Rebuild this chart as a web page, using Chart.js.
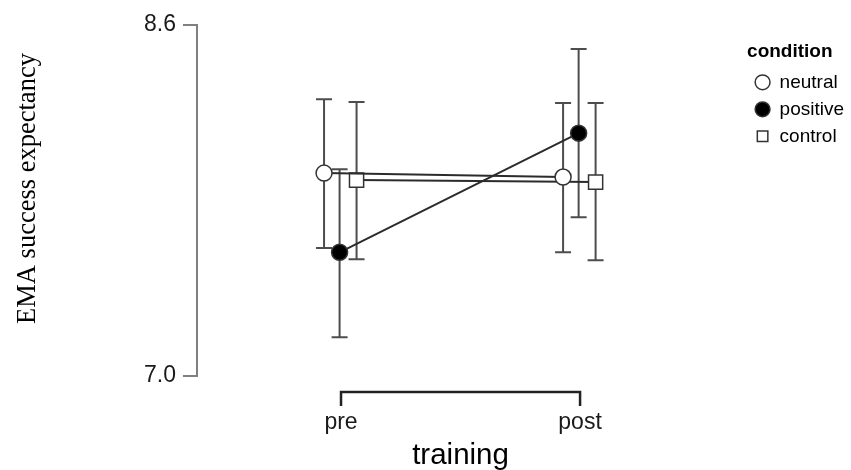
<!DOCTYPE html>
<html>
<head>
<meta charset="utf-8">
<script src="https://cdn.jsdelivr.net/npm/chart.js@4.4.0/dist/chart.umd.min.js"></script>
<style>
  html, body { margin: 0; padding: 0; background: #fff; }
  .chart-box { width: 851px; height: 470px; }
</style>
</head>
<body>
<div class="chart-box"><canvas id="chart"></canvas></div>
<script>
// data (means with error bar ends)
const timepoints = ['pre', 'post'];
const conditions = ['neutral', 'positive', 'control'];

const neutralMean = [7.925, 7.907];
const neutralLow = [7.583, 7.564];
const neutralHigh = [8.262, 8.244];

const positiveMean = [7.564, 8.107];
const positiveLow = [7.177, 7.724];
const positiveHigh = [7.943, 8.491];

const controlMean = [7.893, 7.884];
const controlLow = [7.532, 7.528];
const controlHigh = [8.249, 8.244];

const yTicks = [7.0, 8.6];

const xTitle = 'training';
const yTitle = 'EMA success expectancy';

const FONT = "'Liberation Sans', Arial, sans-serif";
const SERIF = "'Liberation Serif', 'Times New Roman', serif";
const dodge = [-0.071, -0.006, 0.065];

const series = [
  { mean: neutralMean, low: neutralLow, high: neutralHigh, fill: '#ffffff', style: 'circle', r: 8 },
  { mean: positiveMean, low: positiveLow, high: positiveHigh, fill: '#000000', style: 'circle', r: 8 },
  { mean: controlMean, low: controlLow, high: controlHigh, fill: '#ffffff', style: 'rect', r: 10 },
];

const datasets = series.map((s, i) => ({
  label: conditions[i],
  data: s.mean.map((v, j) => ({ x: j + 1 + dodge[i], y: v })),
  showLine: true,
  borderColor: '#2b2b2b',
  borderWidth: 2,
  pointStyle: s.style,
  pointRadius: s.r,
  pointBackgroundColor: s.fill,
  pointBorderColor: '#333333',
  pointBorderWidth: 1.5,
  backgroundColor: s.fill,
}));

// error bars, drawn under the points
const errorBars = {
  id: 'errorBars',
  beforeDatasetsDraw(chart) {
    const ctx = chart.ctx;
    const y = chart.scales.y;
    ctx.save();
    ctx.strokeStyle = '#4d4d4d';
    ctx.lineWidth = 2;
    series.forEach((s, i) => {
      const meta = chart.getDatasetMeta(i);
      meta.data.forEach((pt, j) => {
        const top = y.getPixelForValue(s.high[j]);
        const bot = y.getPixelForValue(s.low[j]);
        ctx.beginPath();
        ctx.moveTo(pt.x, top); ctx.lineTo(pt.x, bot);
        ctx.moveTo(pt.x - 8, top); ctx.lineTo(pt.x + 8, top);
        ctx.moveTo(pt.x - 8, bot); ctx.lineTo(pt.x + 8, bot);
        ctx.stroke();
      });
    });
    ctx.restore();
  }
};

// detached x axis bracket between the two categories, plus axis titles
const axisDecor = {
  id: 'axisDecor',
  afterDraw(chart) {
    const ctx = chart.ctx;
    const xs = chart.scales.x;
    const area = chart.chartArea;
    const x1 = xs.getPixelForValue(1);
    const x2 = xs.getPixelForValue(timepoints.length);
    const yy = xs.top + 16;
    ctx.save();
    ctx.strokeStyle = '#222';
    ctx.lineWidth = 2.5;
    ctx.beginPath();
    ctx.moveTo(x1, yy + 14);
    ctx.lineTo(x1, yy);
    ctx.lineTo(x2, yy);
    ctx.lineTo(x2, yy + 14);
    ctx.stroke();

    ctx.fillStyle = '#000';
    ctx.textAlign = 'center';
    ctx.textBaseline = 'alphabetic';
    ctx.font = '29.5px ' + FONT;
    ctx.fillText(xTitle, (x1 + x2) / 2, xs.bottom - 6);

    ctx.translate(28, (area.top + area.bottom) / 2 - 12);
    ctx.rotate(-Math.PI / 2);
    ctx.textBaseline = 'middle';
    ctx.font = '26.5px ' + SERIF;
    ctx.fillText(yTitle, 0, 0);
    ctx.restore();
  }
};

new Chart(document.getElementById('chart'), {
  type: 'scatter',
  data: { datasets },
  options: {
    responsive: true,
    maintainAspectRatio: false,
    animation: false,
    events: [],
    layout: { padding: { top: 25, right: -3, bottom: 0, left: 0 } },
    scales: {
      x: {
        type: 'linear',
        min: 0.3975,
        max: 2.6987,
        afterFit(scale) { scale.height = 94; },
        afterBuildTicks(scale) { scale.ticks = timepoints.map((t, i) => ({ value: i + 1 })); },
        grid: { display: false, drawTicks: false },
        border: { display: false },
        ticks: {
          padding: 33,
          color: '#1a1a1a',
          font: { family: FONT, size: 23 },
          callback: v => timepoints[v - 1],
        },
      },
      y: {
        min: yTicks[0],
        max: yTicks[yTicks.length - 1],
        afterFit(scale) { scale.width = 197; },
        afterBuildTicks(scale) { scale.ticks = yTicks.map(v => ({ value: v })); },
        grid: { drawOnChartArea: false, tickLength: 14, color: '#808080', lineWidth: 2 },
        border: { color: '#808080', width: 2 },
        ticks: {
          padding: 7,
          color: '#1a1a1a',
          font: { family: FONT, size: 23 },
          callback: v => v.toFixed(1),
        },
      },
    },
    plugins: {
      tooltip: { enabled: false },
      legend: {
        position: 'right',
        align: 'start',
        title: {
          display: true,
          text: 'condition',
          position: 'start',
          color: '#000',
          font: { family: FONT, size: 19, weight: 'bold' },
          padding: { top: 17, bottom: 0 },
        },
        labels: {
          usePointStyle: true,
          boxWidth: 15,
          boxHeight: 10.5,
          padding: 8,
          color: '#000',
          font: { family: FONT, size: 19 },
        },
      },
    },
  },
  plugins: [errorBars, axisDecor],
});
</script>
</body>
</html>
